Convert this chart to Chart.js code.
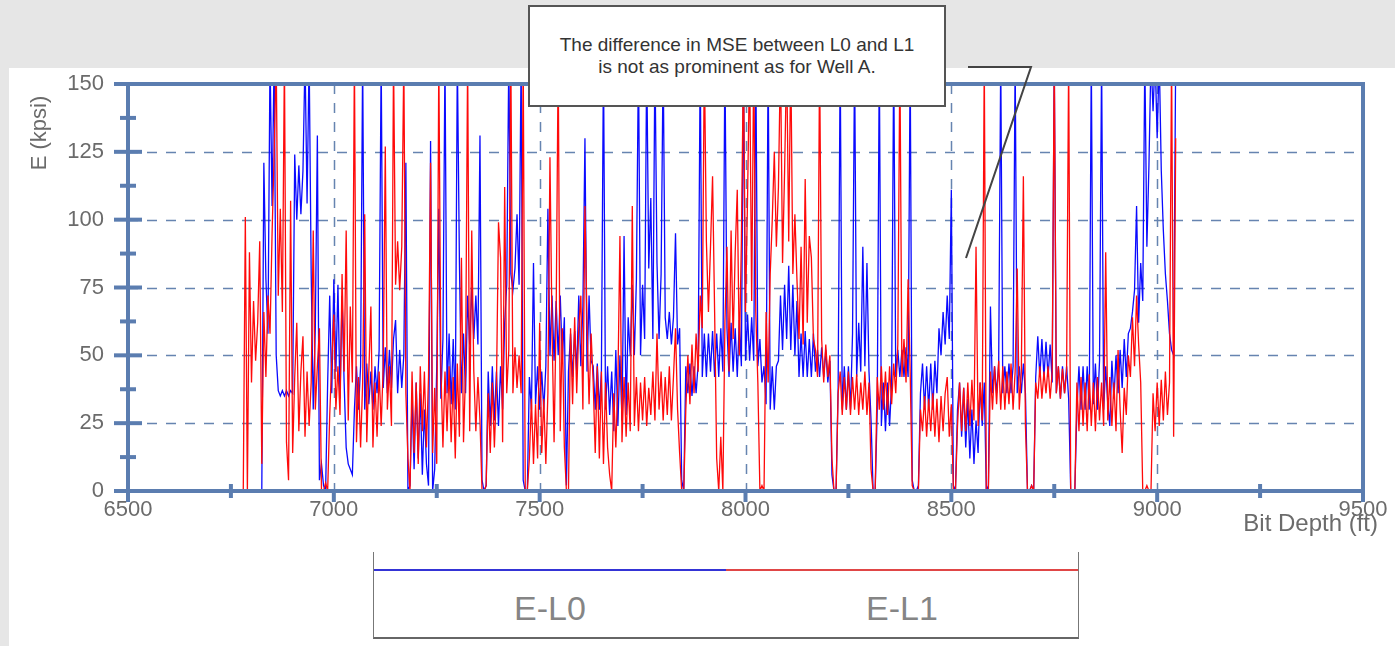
<!DOCTYPE html>
<html>
<head>
<meta charset="utf-8">
<script src="https://cdn.jsdelivr.net/npm/chart.js@4.4.1/dist/chart.umd.min.js"></script>
<style>
  html, body { margin: 0; padding: 0; }
  body { width: 1395px; height: 646px; background: #e6e6e6; position: relative; overflow: hidden;
         font-family: Arial, "Liberation Sans", sans-serif; }
  #panel { position: absolute; left: 9px; top: 68px; right: 0; bottom: 0; background: #fff; }
  #myChart { position: absolute; left: 0; top: 0; }
  #note { position: absolute; left: 528px; top: 5px; width: 414px; height: 98px; background: #fff;
          border: 2px solid #555; color: #333; font-size: 19px; line-height: 22px; text-align: center; }
  #note div { padding-top: 27px; }
  #pointer { position: absolute; left: 0; top: 0; }
  #legend { position: absolute; left: 373px; top: 552px; width: 704px; height: 85px;
            border-left: 1.5px solid #777; border-right: 1.5px solid #777; border-bottom: 2px solid #666;
            background: #fff; }
  #legend .seg { position: absolute; top: 17px; height: 2px; }
  #legend .lab { position: absolute; top: 37px; width: 352px; text-align: center; font-size: 34px; color: #858585; }
</style>
</head>
<body>
<div id="panel"></div>
<canvas id="myChart" width="1395" height="646"></canvas>
<div id="note"><div>The difference in MSE between L0 and L1<br>is not as prominent as for Well A.</div></div>
<svg id="pointer" width="1395" height="646"><polyline points="968,67 1031,67 966,258" fill="none" stroke="#444" stroke-width="2"/></svg>
<div id="legend"></div>
<script>
// depth sampling of both logs (ft)
const depthStart = 6780;
const depthStep = 5;

// E-L0 (kpsi), one row per 50 ft starting at 6780
const eL0 = [
  null, null, null, null, null, null, null, null, null, 0,
  121, 78, 58, 160, 105, 160, 50, 37, 35, 37,
  35, 37, 35, 37, 36, 124, 100, 120, 102, 118,
  160, 106, 160, 80, 30, 60, 131, 4, 10, 2,
  0, 40, 72, 36, 78, 44, 76, 34, 72, 40,
  16, 10, 8, 6, 30, 46, 30, 46, 160, 30,
  47, 32, 44, 30, 46, 36, 52, 160, 38, 53,
  36, 52, 38, 56, 63, 36, 52, 38, 50, 121,
  0, 2, 34, 8, 40, 12, 36, 6, 30, 10,
  2, 129, 0, 8, 46, 104, 34, 56, 160, 36,
  58, 32, 56, 30, 160, 85, 36, 58, 36, 72,
  54, 75, 56, 72, 54, 131, 4, 0, 2, 44,
  24, 46, 26, 44, 24, 46, 30, 62, 76, 160,
  80, 74, 82, 102, 76, 160, 4, 0, 0, 42,
  30, 84, 32, 46, 30, 44, 30, 46, 104, 50,
  72, 48, 70, 50, 72, 48, 64, 2, 44, 58,
  42, 59, 44, 72, 46, 68, 130, 44, 72, 48,
  46, 30, 47, 30, 44, 160, 30, 46, 28, 44,
  22, 52, 24, 50, 26, 94, 28, 64, 50, 76,
  50, 78, 160, 50, 76, 56, 160, 82, 108, 56,
  160, 84, 56, 80, 160, 64, 56, 66, 54, 64,
  95, 54, 60, 4, 0, 46, 36, 47, 35, 46,
  36, 47, 160, 42, 58, 42, 58, 44, 59, 42,
  58, 42, 60, 44, 160, 60, 42, 62, 44, 60,
  42, 63, 46, 160, 48, 65, 48, 64, 48, 160,
  46, 56, 40, 46, 32, 160, 30, 46, 30, 46,
  48, 72, 52, 76, 56, 83, 52, 76, 50, 70,
  42, 58, 42, 59, 42, 56, 42, 58, 44, 52,
  42, 53, 42, 52, 40, 48, 6, 0, 0, 38,
  160, 30, 46, 30, 46, 30, 58, 160, 42, 62,
  44, 90, 46, 84, 44, 26, 0, 0, 30, 160,
  24, 40, 22, 40, 24, 40, 160, 42, 52, 42,
  52, 42, 53, 42, 160, 4, 0, 0, 2, 36,
  47, 30, 46, 30, 47, 30, 48, 36, 60, 50,
  66, 54, 72, 56, 111, 2, 0, 30, 40, 20,
  38, 16, 34, 12, 30, 10, 26, 14, 40, 24,
  40, 0, 2, 68, 36, 46, 36, 47, 160, 36,
  46, 36, 47, 36, 46, 160, 36, 46, 36, 47,
  36, 0, 0, 2, 0, 42, 57, 42, 56, 42,
  55, 42, 54, 40, 160, 36, 46, 34, 46, 36,
  46, 34, 0, 0, 0, 30, 46, 30, 46, 30,
  46, 30, 160, 32, 47, 30, 48, 160, 30, 46,
  32, 24, 48, 34, 50, 36, 52, 38, 56, 42,
  58, 60, 66, 74, 105, 62, 84, 70, 160, 90,
  120, 160, 140, 160, 130, 160, 118, 96, 80, 70,
  58, 52, 50, 160
];

// E-L1 (kpsi), same depths
const eL1 = [
  0, 101, 0, 88, 40, 70, 48, 62, 92, 10,
  66, 42, 72, 58, 95, 124, 160, 72, 104, 66,
  160, 18, 4, 107, 14, 42, 62, 22, 44, 57,
  20, 44, 24, 40, 96, 30, 46, 60, 0, 0,
  3, 0, 28, 48, 65, 30, 46, 28, 80, 44,
  96, 26, 68, 40, 160, 18, 42, 16, 40, 102,
  18, 44, 68, 16, 40, 20, 44, 24, 46, 127,
  30, 46, 24, 160, 76, 92, 74, 90, 160, 36,
  12, 0, 44, 14, 40, 10, 46, 22, 44, 16,
  42, 121, 14, 38, 10, 160, 46, 16, 44, 22,
  46, 18, 42, 12, 47, 20, 86, 18, 44, 160,
  22, 96, 44, 22, 42, 26, 0, 0, 2, 36,
  14, 40, 16, 38, 99, 86, 18, 112, 36, 52,
  160, 36, 53, 38, 50, 36, 160, 0, 0, 12,
  34, 10, 32, 12, 62, 14, 34, 10, 36, 123,
  60, 18, 64, 160, 22, 60, 16, 0, 0, 60,
  32, 64, 36, 60, 72, 30, 105, 62, 32, 58,
  40, 14, 46, 12, 44, 10, 40, 16, 6, 0,
  36, 16, 40, 94, 18, 42, 20, 40, 22, 105,
  24, 42, 22, 40, 26, 42, 24, 38, 28, 44,
  26, 58, 30, 44, 26, 42, 28, 46, 26, 42,
  60, 30, 14, 0, 0, 30, 50, 32, 54, 36,
  58, 44, 72, 60, 160, 92, 66, 90, 116, 66,
  12, 0, 20, 0, 62, 90, 44, 96, 56, 88,
  111, 50, 92, 160, 66, 108, 160, 70, 160, 66,
  40, 0, 2, 0, 66, 40, 80, 100, 125, 90,
  112, 160, 84, 118, 160, 92, 160, 80, 102, 78,
  56, 90, 54, 115, 62, 94, 86, 56, 52, 42,
  160, 56, 40, 54, 42, 50, 12, 0, 0, 36,
  44, 28, 42, 30, 44, 28, 42, 30, 43, 28,
  40, 30, 44, 28, 40, 8, 0, 0, 42, 30,
  46, 30, 44, 28, 46, 32, 47, 36, 54, 160,
  42, 56, 40, 78, 44, 2, 0, 0, 0, 30,
  22, 35, 20, 34, 22, 36, 20, 34, 18, 35,
  22, 36, 42, 20, 32, 0, 0, 24, 40, 22,
  38, 22, 40, 24, 41, 26, 90, 24, 40, 26,
  160, 0, 0, 44, 30, 46, 32, 48, 30, 46,
  30, 44, 32, 47, 30, 44, 82, 30, 44, 116,
  24, 0, 0, 2, 0, 40, 34, 46, 34, 44,
  36, 46, 34, 44, 160, 36, 46, 34, 45, 36,
  44, 160, 0, 0, 0, 40, 22, 42, 24, 40,
  22, 43, 24, 40, 22, 42, 26, 40, 24, 88,
  26, 42, 24, 40, 22, 52, 30, 14, 38, 28,
  50, 42, 64, 46, 72, 54, 40, 0, 0, 2,
  0, 0, 36, 22, 40, 24, 41, 26, 44, 28,
  40, 160, 20, 130
];

const seriesNames = ['E-L0', 'E-L1'];
const seriesColors = ['#0a0aff', '#ff0a0a'];
const legendColors = ['#3434d6', '#e04646'];

const yMajor = [0, 25, 50, 75, 100, 125, 150];
const yMinor = [12.5, 37.5, 62.5, 87.5, 112.5, 137.5];
const xMajor = [6500, 7000, 7500, 8000, 8500, 9000, 9500];
const xMinor = [6750, 7250, 7750, 8250, 8750, 9250];
const yGrid = [25, 50, 75, 100, 125];
const xGrid = [7000, 7500, 8000, 8500, 9000];

const axisColor = '#5b7db0';
const gridColor = '#6684b0';
const textColor = '#6b6b6b';
const fontFamily = 'Arial, "Liberation Sans", sans-serif';

function toPoints(values) {
  return values.map((v, i) => ({ x: depthStart + i * depthStep, y: v }));
}

function seg(ctx, x1, y1, x2, y2) {
  ctx.beginPath();
  ctx.moveTo(x1, y1);
  ctx.lineTo(x2, y2);
  ctx.stroke();
}

const framePlugin = {
  id: 'frame',
  beforeDatasetsDraw(chart) {
    const { ctx, chartArea: a, scales: { x, y } } = chart;
    ctx.save();
    ctx.strokeStyle = gridColor;
    ctx.lineWidth = 1.5;
    ctx.setLineDash([10, 9]);
    yGrid.forEach(v => {
      const py = Math.round(y.getPixelForValue(v)) + 0.5;
      seg(ctx, a.left, py, a.right, py);
    });
    xGrid.forEach(v => {
      const px = Math.round(x.getPixelForValue(v)) + 0.5;
      seg(ctx, px, a.top, px, a.bottom);
    });
    ctx.restore();
  },
  afterDatasetsDraw(chart) {
    const { ctx, chartArea: a, scales: { x, y } } = chart;
    ctx.save();
    ctx.strokeStyle = axisColor;
    ctx.lineWidth = 4;
    // frame
    seg(ctx, a.left - 2, a.top, a.right + 2, a.top);
    seg(ctx, a.left - 2, a.bottom, a.right + 2, a.bottom);
    seg(ctx, a.left, a.top, a.left, a.bottom + 9);
    seg(ctx, a.right, a.top, a.right, a.bottom + 11);
    // y ticks
    yMajor.forEach(v => {
      const py = y.getPixelForValue(v);
      seg(ctx, a.left - 14, py, a.left + 14, py);
    });
    yMinor.forEach(v => {
      const py = y.getPixelForValue(v);
      seg(ctx, a.left - 8, py, a.left + 8, py);
    });
    // x ticks
    xMajor.forEach(v => {
      const px = x.getPixelForValue(v);
      seg(ctx, px, a.bottom, px, a.bottom + 11);
    });
    xMinor.forEach(v => {
      const px = x.getPixelForValue(v);
      seg(ctx, px, a.bottom - 7, px, a.bottom + 7);
    });
    // axis titles
    ctx.fillStyle = textColor;
    ctx.textBaseline = 'middle';
    ctx.font = '24px ' + fontFamily;
    ctx.textAlign = 'right';
    ctx.fillText('Bit Depth (ft)', 1378, 524);
    ctx.font = '22px ' + fontFamily;
    ctx.translate(40, 133);
    ctx.rotate(-Math.PI / 2);
    ctx.textAlign = 'center';
    ctx.fillText('E (kpsi)', 0, 0);
    ctx.restore();
  }
};

const config = {
  type: 'line',
  data: {
    datasets: [
      {
        label: seriesNames[0],
        data: toPoints(eL0),
        borderColor: seriesColors[0],
        borderWidth: 1.3,
        order: 1
      },
      {
        label: seriesNames[1],
        data: toPoints(eL1),
        borderColor: seriesColors[1],
        borderWidth: 1.3,
        order: 0
      }
    ]
  },
  options: {
    responsive: false,
    animation: false,
    devicePixelRatio: 1,
    layout: { padding: { top: 84, right: 32, left: 0, bottom: 0 } },
    elements: { point: { radius: 0 }, line: { tension: 0 } },
    plugins: { legend: { display: false }, tooltip: { enabled: false } },
    scales: {
      x: {
        type: 'linear',
        min: 6500,
        max: 9500,
        afterFit(scale) { scale.height = 155; },
        grid: { display: false, drawTicks: false },
        border: { display: false },
        ticks: {
          stepSize: 500,
          autoSkip: false,
          maxRotation: 0,
          padding: 6,
          color: textColor,
          font: { size: 22, family: fontFamily },
          callback: v => String(v)
        }
      },
      y: {
        min: 0,
        max: 150,
        afterFit(scale) { scale.width = 128; },
        grid: { display: false, drawTicks: false },
        border: { display: false },
        ticks: {
          stepSize: 25,
          padding: 24,
          color: textColor,
          font: { size: 22, family: fontFamily },
          callback: v => String(v)
        }
      }
    }
  },
  plugins: [framePlugin]
};

let myChart = new Chart(document.getElementById('myChart'), config);

// legend box
const legendElem = document.getElementById('legend');
seriesNames.forEach((name, i) => {
  const line = document.createElement('div');
  line.className = 'seg';
  line.style.left = (i * 352) + 'px';
  line.style.width = '352px';
  line.style.background = legendColors[i];
  legendElem.appendChild(line);

  const lab = document.createElement('div');
  lab.className = 'lab';
  lab.style.left = (i * 352) + 'px';
  lab.textContent = name;
  legendElem.appendChild(lab);
});
</script>
</body>
</html>
